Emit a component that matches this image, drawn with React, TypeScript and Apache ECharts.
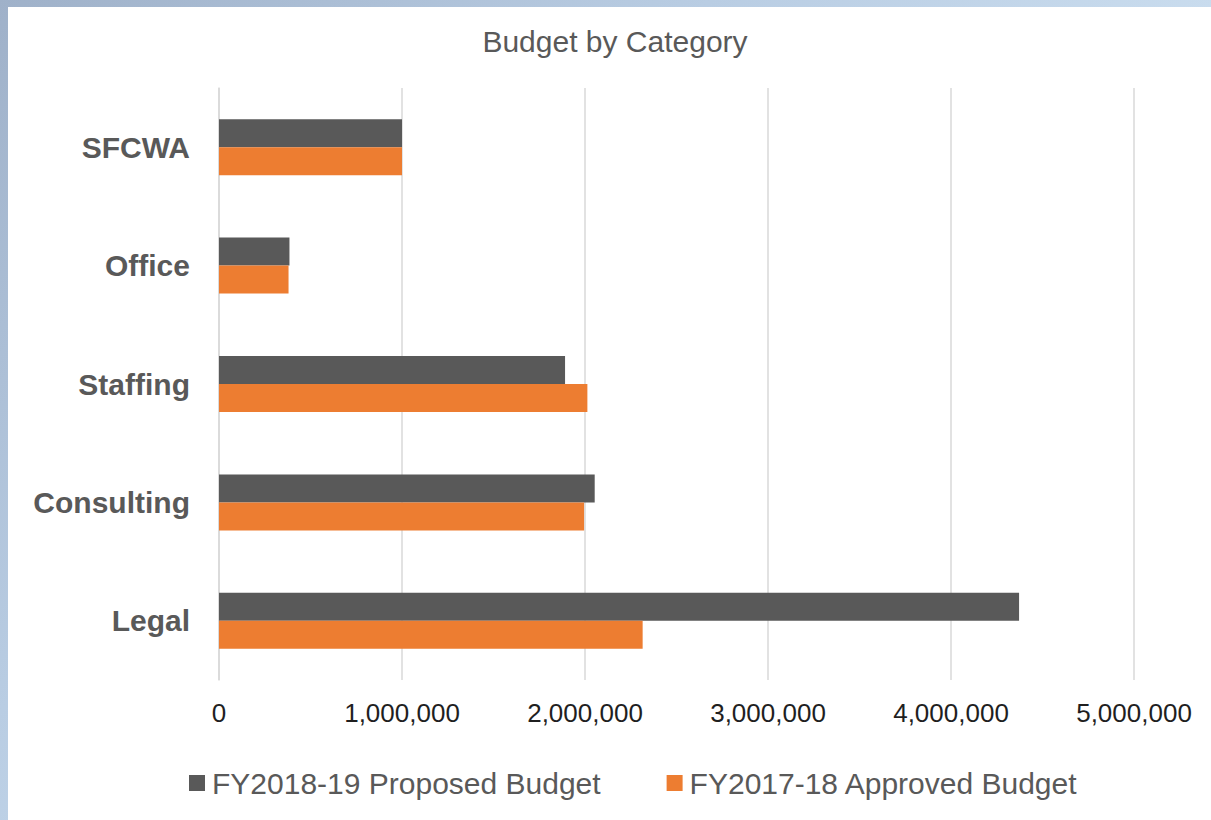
import React, { useEffect, useRef } from "react";
import * as echarts from "echarts";

const categories = ["Legal", "Consulting", "Staffing", "Office", "SFCWA"];
const proposedName = "FY2018-19 Proposed Budget";
const approvedName = "FY2017-18 Approved Budget";
const proposed = [4372000, 2053000, 1891000, 385000, 1000000];
const approved = [2315000, 1995000, 2013000, 380000, 1000000];
const xTicks = [0, 1000000, 2000000, 3000000, 4000000, 5000000];

const FONT = "'Liberation Sans', Arial, Helvetica, sans-serif";

export default function App() {
  const ref = useRef<HTMLDivElement>(null);
  useEffect(() => {
    if (!ref.current) return;
    const chart = echarts.init(ref.current, null, { renderer: "svg" });
    chart.setOption({
      animation: false,
      backgroundColor: "transparent",
      textStyle: { fontFamily: FONT },
      graphic: [
        {
          type: "rect",
          z: -10,
          silent: true,
          shape: { x: 8, y: 7, width: 1211 - 8, height: 820 - 7 },
          style: { fill: "#ffffff" },
        },
      ],
      title: {
        text: "Budget by Category",
        left: 610,
        textAlign: "center",
        top: 21,
        textStyle: { fontFamily: FONT, fontSize: 30, fontWeight: "normal", color: "#595959" },
      },
      legend: {
        left: 184,
        top: 763,
        itemWidth: 16,
        itemHeight: 16,
        itemGap: 66,
        icon: "rect",
        textStyle: { fontFamily: FONT, fontSize: 30, color: "#595959", padding: [0, 0, 0, 2] },
        data: [proposedName, approvedName],
      },
      grid: { left: 219, right: 1211 - 1134, top: 88, bottom: 820 - 680, containLabel: false },
      xAxis: {
        type: "value",
        min: xTicks[0],
        max: xTicks[xTicks.length - 1],
        interval: 1000000,
        axisLine: { show: false },
        axisTick: { show: false },
        splitLine: { show: true, lineStyle: { color: "#d9d9d9", width: 1.5 } },
        axisLabel: {
          margin: 20,
          fontFamily: FONT,
          fontSize: 26,
          color: "#1f1f1f",
          formatter: (v: number) => v.toLocaleString("en-US"),
        },
      },
      yAxis: {
        type: "category",
        data: categories,
        axisLine: { show: true, lineStyle: { color: "#d9d9d9", width: 1.5 } },
        axisTick: { show: false },
        axisLabel: {
          margin: 29,
          fontFamily: FONT,
          fontSize: 30,
          fontWeight: "bold",
          color: "#595959",
        },
      },
      series: [
        {
          name: proposedName,
          type: "bar",
          data: proposed,
          barWidth: 28,
          barGap: "0%",
          itemStyle: { color: "#595959" },
        },
        {
          name: approvedName,
          type: "bar",
          data: approved,
          barWidth: 28,
          barGap: "0%",
          itemStyle: { color: "#ed7d31" },
        },
      ],
    });
    return () => chart.dispose();
  }, []);
  return (
    <div
      style={{
        position: "absolute",
        left: 0,
        top: 0,
        width: 1211,
        height: 820,
        background: "linear-gradient(135deg, #9fb1c9 0%, #b9cde3 35%, #c9dcee 60%, #cfe1f1 100%)",
      }}
    >
      <div ref={ref} style={{ width: 1211, height: 820 }} />
    </div>
  );
}
